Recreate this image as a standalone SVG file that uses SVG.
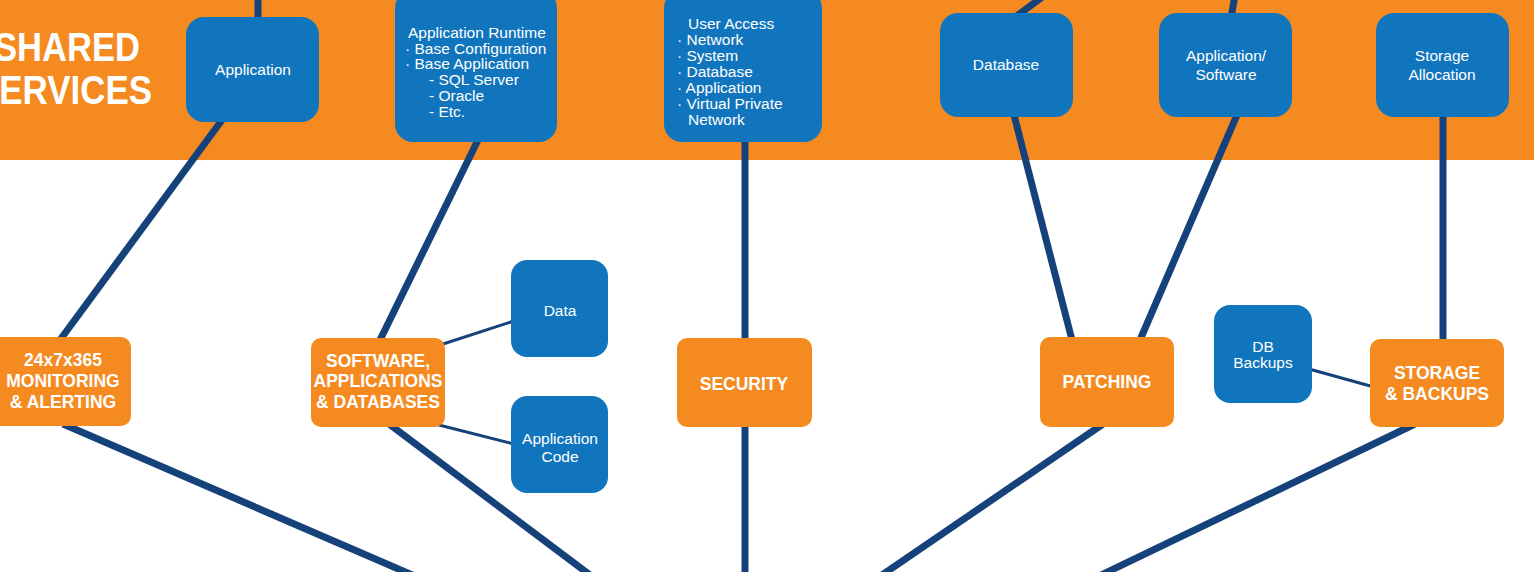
<svg xmlns="http://www.w3.org/2000/svg" width="1534" height="572" viewBox="0 0 1534 572">
<style>
.band{fill:#F58A20}
.blue{fill:#1175BD}
.org{fill:#F58A20}
.thick{stroke:#15427A;stroke-width:7;fill:none}
.thin{stroke:#15427A;stroke-width:3;fill:none}
.bt{font-family:"Liberation Sans",Arial,sans-serif;font-size:15.5px;fill:#FFFFFF}
.btc{font-family:"Liberation Sans",Arial,sans-serif;font-size:15.5px;fill:#FFFFFF;text-anchor:middle}
.ot{font-family:"Liberation Sans",Arial,sans-serif;font-size:17.5px;font-weight:bold;fill:#FFFFFF;text-anchor:middle}
.title{font-family:"Liberation Sans",Arial,sans-serif;font-size:40px;font-weight:bold;fill:#FFFFFF}
</style>
<rect x="0" y="0" width="1534" height="572" fill="#FFFFFF"/>
<rect class="band" x="0" y="0" width="1534" height="160"/>
<g id="title">
<text class="title" x="-6" y="61" textLength="146" lengthAdjust="spacingAndGlyphs">SHARED</text>
<text class="title" x="-24" y="104" textLength="176" lengthAdjust="spacingAndGlyphs">SERVICES</text>
</g>
<g id="connectors">
<line class="thick" x1="258" y1="-5" x2="258" y2="20"/>
<line class="thick" x1="222" y1="120" x2="60" y2="340"/>
<line class="thick" x1="478" y1="140" x2="380" y2="340"/>
<line class="thick" x1="745" y1="140" x2="745" y2="340"/>
<line class="thick" x1="1045" y1="-5" x2="1014" y2="18"/>
<line class="thick" x1="1235" y1="-5" x2="1231" y2="18"/>
<line class="thick" x1="1014" y1="115" x2="1072" y2="340"/>
<line class="thick" x1="1237" y1="115" x2="1140" y2="340"/>
<line class="thick" x1="1443" y1="115" x2="1443" y2="342"/>
<line class="thick" x1="63" y1="424" x2="447" y2="590"/>
<line class="thick" x1="389" y1="424" x2="610" y2="590"/>
<line class="thick" x1="745" y1="424" x2="745" y2="590"/>
<line class="thick" x1="1103" y1="424" x2="860" y2="590"/>
<line class="thick" x1="1415" y1="424" x2="1070" y2="590"/>
<line class="thin" x1="440" y1="345" x2="514" y2="321"/>
<line class="thin" x1="435" y1="424" x2="514" y2="444"/>
<line class="thin" x1="1309" y1="369" x2="1374" y2="387"/>
</g>
<g id="n-application">
<rect class="blue" x="186" y="17" width="133" height="105" rx="18"/>
<text class="btc" x="253" y="75">Application</text>
</g>
<g id="n-runtime">
<rect class="blue" x="395" y="-10" width="162" height="152" rx="18"/>
<text class="bt" x="408" y="38">Application Runtime</text>
<text class="bt" x="405" y="53.5">· Base Configuration</text>
<text class="bt" x="405" y="69">· Base Application</text>
<text class="bt" x="429" y="85">- SQL Server</text>
<text class="bt" x="429" y="100.5">- Oracle</text>
<text class="bt" x="429" y="116.5">- Etc.</text>
</g>
<g id="n-useraccess">
<rect class="blue" x="664" y="-10" width="158" height="152" rx="18"/>
<text class="bt" x="688" y="29">User Access</text>
<text class="bt" x="677" y="45">· Network</text>
<text class="bt" x="677" y="61">· System</text>
<text class="bt" x="677" y="77">· Database</text>
<text class="bt" x="677" y="93">· Application</text>
<text class="bt" x="677" y="109">· Virtual Private</text>
<text class="bt" x="688" y="124.5">Network</text>
</g>
<g id="n-database">
<rect class="blue" x="940" y="13" width="133" height="104" rx="18"/>
<text class="btc" x="1006" y="70">Database</text>
</g>
<g id="n-appsoftware">
<rect class="blue" x="1159" y="13" width="133" height="104" rx="18"/>
<text class="btc" x="1226" y="61">Application/</text>
<text class="btc" x="1226" y="80">Software</text>
</g>
<g id="n-storagealloc">
<rect class="blue" x="1376" y="13" width="133" height="104" rx="18"/>
<text class="btc" x="1442" y="61">Storage</text>
<text class="btc" x="1442" y="80">Allocation</text>
</g>
<g id="n-monitoring">
<rect class="org" x="-12" y="337" width="143" height="89" rx="10"/>
<text class="ot" x="63" y="366">24x7x365</text>
<text class="ot" x="63" y="387">MONITORING</text>
<text class="ot" x="63" y="408">&amp; ALERTING</text>
</g>
<g id="n-software">
<rect class="org" x="311" y="338" width="134" height="89" rx="10"/>
<text class="ot" x="378" y="367">SOFTWARE,</text>
<text class="ot" x="378" y="387">APPLICATIONS</text>
<text class="ot" x="378" y="408">&amp; DATABASES</text>
</g>
<g id="n-data">
<rect class="blue" x="511" y="260" width="97" height="97" rx="16"/>
<text class="btc" x="560" y="316">Data</text>
</g>
<g id="n-appcode">
<rect class="blue" x="511" y="396" width="97" height="97" rx="16"/>
<text class="btc" x="560" y="444">Application</text>
<text class="btc" x="560" y="462">Code</text>
</g>
<g id="n-security">
<rect class="org" x="677" y="338" width="135" height="89" rx="10"/>
<text class="ot" x="744" y="390">SECURITY</text>
</g>
<g id="n-patching">
<rect class="org" x="1040" y="337" width="134" height="90" rx="10"/>
<text class="ot" x="1107" y="388">PATCHING</text>
</g>
<g id="n-dbbackups">
<rect class="blue" x="1214" y="305" width="98" height="98" rx="16"/>
<text class="btc" x="1263" y="352">DB</text>
<text class="btc" x="1263" y="368">Backups</text>
</g>
<g id="n-storagebackups">
<rect class="org" x="1370" y="339" width="134" height="88" rx="10"/>
<text class="ot" x="1437" y="379">STORAGE</text>
<text class="ot" x="1437" y="400">&amp; BACKUPS</text>
</g>
</svg>
